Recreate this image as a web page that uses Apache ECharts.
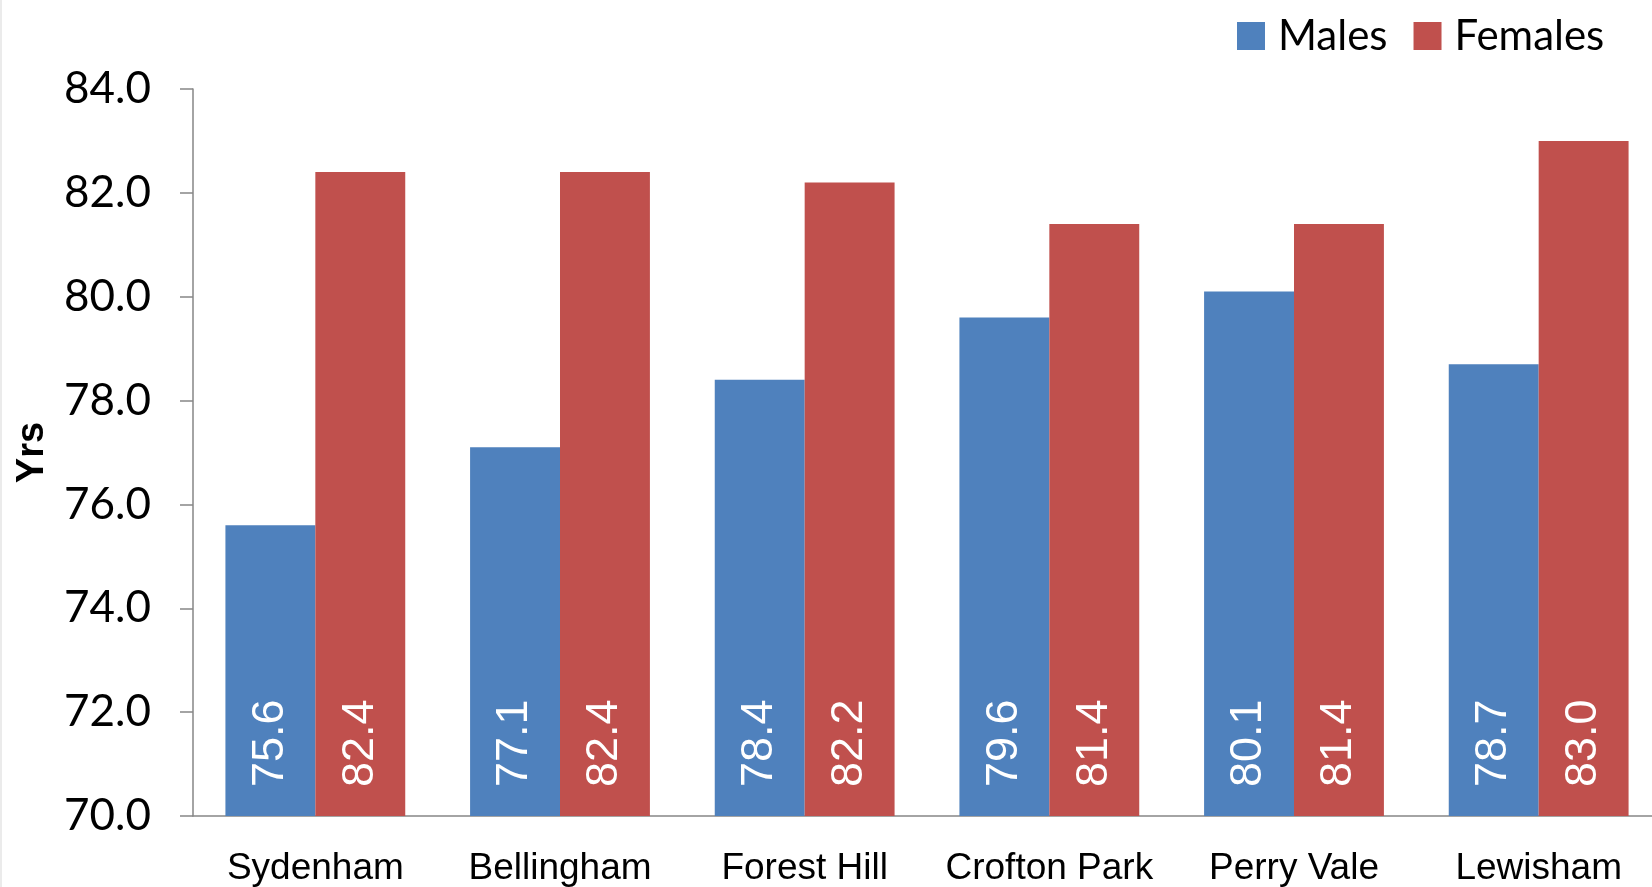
<!DOCTYPE html>
<html>
<head>
<meta charset="utf-8">
<script src="https://cdn.jsdelivr.net/npm/echarts@6/dist/echarts.min.js"></script>
<style>
  html, body { margin: 0; padding: 0; background: #fff; }
  #main { width: 1652px; height: 887px; }
</style>
</head>
<body>
<div id="main"></div>
<script>
// wards and life expectancy (yrs)
var wards = ['Sydenham', 'Bellingham', 'Forest Hill', 'Crofton Park', 'Perry Vale', 'Lewisham'];
var males = [75.6, 77.1, 78.4, 79.6, 80.1, 78.7];
var females = [82.4, 82.4, 82.2, 81.4, 81.4, 83.0];
var yTicks = {min: 70, max: 84, step: 2};

var chart = echarts.init(document.getElementById('main'));

var barLabel = {
    show: true,
    position: 'insideBottom',
    rotate: 90,
    align: 'left',
    verticalAlign: 'middle',
    distance: 29,
    color: '#fff',
    fontFamily: 'Liberation Sans',
    fontSize: 45,
    formatter: function (p) { return p.value.toFixed(1); }
};

var option = {
    animation: false,
    backgroundColor: '#fff',
    // plot runs a bit past the right edge, like the cropped original
    grid: {left: 193, width: 1468, top: 89, bottom: 71, outerBoundsMode: 'none', containLabel: false},
    graphic: [{
        type: 'line',
        shape: {x1: 1, y1: 0, x2: 1, y2: 887},
        style: {stroke: '#e4e4e4', lineWidth: 1.5}
    }],
    legend: {
        left: 1232,
        top: 10,
        itemWidth: 28,
        itemHeight: 28,
        itemGap: 26,
        icon: 'rect',
        textStyle: {fontFamily: 'Lato', fontSize: 42, color: '#000', padding: [0, 0, 0, 8]},
        data: ['Males', 'Females']
    },
    xAxis: {
        type: 'category',
        data: wards,
        axisLine: {lineStyle: {color: '#868686', width: 1.5}},
        axisTick: {length: 13, lineStyle: {color: '#868686', width: 1.5}},
        axisLabel: {
            color: '#000',
            fontFamily: 'Liberation Sans',
            fontSize: 37,
            margin: 34,
            interval: 0
        }
    },
    yAxis: {
        type: 'value',
        min: yTicks.min,
        max: yTicks.max,
        interval: yTicks.step,
        name: 'Yrs',
        nameLocation: 'middle',
        nameGap: 141,
        nameTextStyle: {fontFamily: 'Liberation Sans', fontWeight: 'bold', fontSize: 38, color: '#000'},
        axisLine: {show: true, lineStyle: {color: '#868686', width: 1.5}},
        axisTick: {show: true, length: 13, lineStyle: {color: '#868686', width: 1.5}},
        splitLine: {show: false},
        axisLabel: {
            color: '#000',
            fontFamily: 'Lato',
            fontSize: 44,
            margin: 42,
            formatter: function (v) { return v.toFixed(1); }
        }
    },
    series: [
        {
            name: 'Males',
            type: 'bar',
            data: males,
            barGap: '0%',
            barCategoryGap: '26.5%',
            itemStyle: {color: '#4F81BD'},
            label: barLabel
        },
        {
            name: 'Females',
            type: 'bar',
            data: females,
            itemStyle: {color: '#C0504D'},
            label: barLabel
        }
    ]
};

chart.setOption(option);
</script>
</body>
</html>
